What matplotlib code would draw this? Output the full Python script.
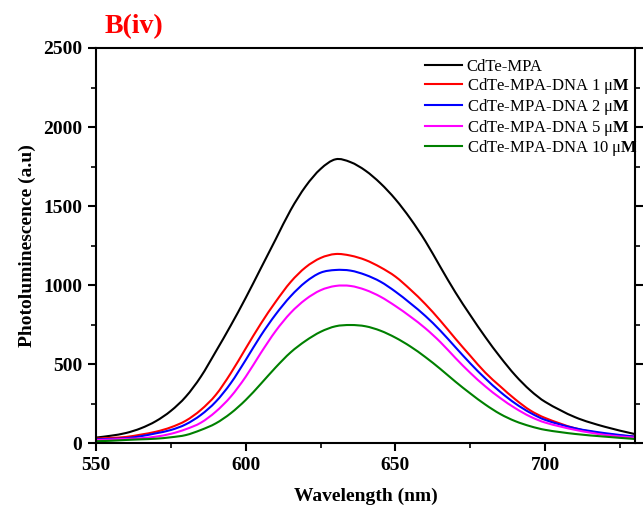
import matplotlib
matplotlib.use("Agg")
import matplotlib.pyplot as plt
from matplotlib.ticker import MultipleLocator
from matplotlib.path import Path
from matplotlib.patches import PathPatch
from matplotlib.lines import Line2D

plt.rcParams['font.family'] = ['Liberation Serif', 'DejaVu Serif']
plt.rcParams['mathtext.fontset'] = 'custom'
plt.rcParams['mathtext.rm'] = 'Liberation Serif'
plt.rcParams['mathtext.bf'] = 'Liberation Serif:bold'

wavelength = [550, 555, 560, 565, 570, 575, 580, 585, 590, 595, 600, 605, 610, 615, 620, 625, 630,
              635, 640, 645, 650, 655, 660, 665, 670, 675, 680, 685, 690, 695, 700, 710, 720, 730]

pl_mpa = [36, 48, 65, 95, 140, 205, 295, 421, 580, 745, 920, 1105, 1290, 1475, 1625, 1735, 1796,
          1778, 1724, 1644, 1543, 1420, 1278, 1115, 955, 810, 672, 545, 430, 335, 262, 165, 104, 58]
pl_dna1 = [30, 34, 40, 55, 73, 101, 143, 211, 306, 443, 600, 755, 895, 1020, 1113, 1172, 1197,
           1187, 1159, 1113, 1054, 972, 880, 775, 662, 553, 447, 360, 278, 208, 160, 95, 59, 42]
pl_dna2 = [25, 28, 32, 45, 63, 84, 120, 179, 263, 380, 527, 680, 815, 930, 1020, 1079, 1096,
           1092, 1065, 1022, 959, 885, 805, 712, 608, 505, 410, 325, 252, 193, 148, 95, 64, 42]
pl_dna5 = [20, 24, 28, 32, 42, 60, 89, 130, 200, 295, 421, 570, 710, 825, 910, 968, 995,
           995, 970, 927, 868, 801, 727, 640, 540, 445, 360, 286, 222, 169, 131, 85, 53, 36]
pl_dna10 = [13, 16, 21, 25, 29, 38, 52, 84, 126, 190, 274, 375, 480, 575, 648, 705, 740,
            748, 740, 712, 668, 612, 545, 470, 390, 315, 245, 185, 140, 108, 85, 59, 42, 27]

labels = ['CdTe-MPA',
          'CdTe-MPA-DNA 1 \u03bc$\\mathbf{M}$',
          'CdTe-MPA-DNA 2 \u03bc$\\mathbf{M}$',
          'CdTe-MPA-DNA 5 \u03bc$\\mathbf{M}$',
          'CdTe-MPA-DNA 10 \u03bc$\\mathbf{M}$']
colors = ['#000000', '#ff0000', '#0000ff', '#ff00ff', '#008000']
series = [pl_mpa, pl_dna1, pl_dna2, pl_dna5, pl_dna10]


def smooth_path(xs, ys):
    """Cubic Hermite curve through the read points, as a Bezier path in data space."""
    n = len(xs)
    slopes = []
    for i in range(n):
        if i == 0:
            m = (ys[1] - ys[0]) / (xs[1] - xs[0])
        elif i == n - 1:
            m = (ys[-1] - ys[-2]) / (xs[-1] - xs[-2])
        else:
            m = (ys[i + 1] - ys[i - 1]) / (xs[i + 1] - xs[i - 1])
        slopes.append(m)
    verts = [(xs[0], ys[0])]
    codes = [Path.MOVETO]
    for i in range(n - 1):
        h = (xs[i + 1] - xs[i]) / 3.0
        verts += [(xs[i] + h, ys[i] + h * slopes[i]),
                  (xs[i + 1] - h, ys[i + 1] - h * slopes[i + 1]),
                  (xs[i + 1], ys[i + 1])]
        codes += [Path.CURVE4] * 3
    return Path(verts, codes)


fig = plt.figure(figsize=(6.43, 5.12), dpi=100)
ax = fig.add_axes([0.1493, 0.1342, 0.9876 - 0.1493, 0.9063 - 0.1342])

handles = []
for ys, c, lab in zip(series, colors, labels):
    patch = PathPatch(smooth_path(wavelength, ys), facecolor='none', edgecolor=c, lw=1.5,
                      transform=ax.transData, capstyle='round', joinstyle='round')
    ax.add_patch(patch)
    handles.append(Line2D([], [], color=c, lw=1.5, label=lab))

ax.set_xlim(550, 730)
ax.set_ylim(0, 2500)
ax.xaxis.set_major_locator(MultipleLocator(50))
ax.xaxis.set_minor_locator(MultipleLocator(25))
ax.yaxis.set_major_locator(MultipleLocator(500))
ax.yaxis.set_minor_locator(MultipleLocator(250))

for s in ax.spines.values():
    s.set_linewidth(1.5)

ax.tick_params(which='major', direction='out', length=6, width=1.5, labelsize=14,
               right=True, top=False, pad=4)
ax.tick_params(which='minor', direction='out', length=3.5, width=1.2, right=True, top=False)
for lbl in ax.get_xticklabels() + ax.get_yticklabels():
    lbl.set_fontweight('bold')

ax.set_xlabel('Wavelength (nm)', fontsize=14, fontweight='bold', labelpad=10)
ax.set_ylabel('Photoluminescence (a.u)', fontsize=14, fontweight='bold', labelpad=5)

leg = fig.legend(handles=handles, loc='upper left', bbox_to_anchor=(410 / 643, 1 - 44 / 512),
                 frameon=False, fontsize=12, handlelength=2.2, handletextpad=0.3,
                 labelspacing=0.05, borderpad=0.4)

fig.text(0.163, 0.935, 'B(iv)', color='#ff0000', fontsize=20, fontweight='bold')

fig.savefig('out.png', dpi=100)
